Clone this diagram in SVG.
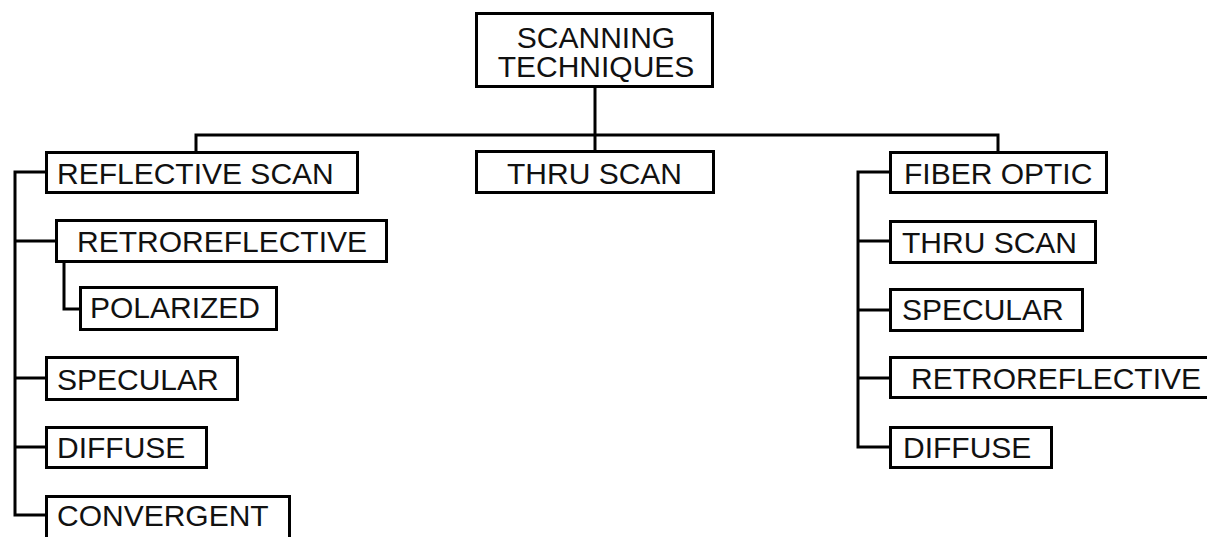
<svg xmlns="http://www.w3.org/2000/svg" width="1207" height="537" viewBox="0 0 1207 537">
  <style>
    .box { fill: #fff; stroke: #000; stroke-width: 3; }
    .wire { fill: none; stroke: #000; stroke-width: 3; stroke-linejoin: miter; stroke-linecap: butt; }
    .lbl { font-family: "Liberation Sans", Arial, sans-serif; font-size: 30px; fill: #111; }
    .mid { text-anchor: middle; }
  </style>
  <rect width="1207" height="537" fill="#fff"/>

  <!-- connectors -->
  <g id="connectors" class="wire">
    <path d="M595 87 V135"/>
    <path d="M196 152 V135 H998 V152"/>
    <path d="M595 135 V151"/>
    <!-- left branch -->
    <path d="M46 172 H15 V515 H46"/>
    <path d="M15 241 H56"/>
    <path d="M15 378 H46"/>
    <path d="M15 447 H46"/>
    <path d="M64 262 V309 H80"/>
    <!-- right branch -->
    <path d="M890 172 H858 V447 H890"/>
    <path d="M858 241 H890"/>
    <path d="M858 310 H890"/>
    <path d="M858 378 H890"/>
  </g>

  <g id="root">
    <rect class="box" x="476.5" y="13.5" width="236" height="73"/>
    <text class="lbl mid" x="596" y="48">SCANNING</text>
    <text class="lbl mid" x="596" y="77">TECHNIQUES</text>
  </g>

  <g id="reflective-scan">
    <rect class="box" x="46.5" y="152.5" width="311" height="40"/>
    <text class="lbl" x="57" y="184">REFLECTIVE SCAN</text>
  </g>
  <g id="retroreflective-left">
    <rect class="box" x="56.5" y="220.5" width="330" height="41"/>
    <text class="lbl" x="77" y="252">RETROREFLECTIVE</text>
  </g>
  <g id="polarized">
    <rect class="box" x="80.5" y="287.5" width="196" height="42"/>
    <text class="lbl" x="90" y="318">POLARIZED</text>
  </g>
  <g id="specular-left">
    <rect class="box" x="46.5" y="357.5" width="191" height="42"/>
    <text class="lbl" x="57" y="390">SPECULAR</text>
  </g>
  <g id="diffuse-left">
    <rect class="box" x="46.5" y="427.5" width="160" height="40"/>
    <text class="lbl" x="57" y="458">DIFFUSE</text>
  </g>
  <g id="convergent">
    <rect class="box" x="46.5" y="496.5" width="243" height="60"/>
    <text class="lbl" x="57" y="526">CONVERGENT</text>
  </g>

  <g id="thru-scan">
    <rect class="box" x="476.5" y="151.5" width="237" height="41"/>
    <text class="lbl" x="507" y="184">THRU SCAN</text>
  </g>

  <g id="fiber-optic">
    <rect class="box" x="890.5" y="152.5" width="216" height="40"/>
    <text class="lbl" x="904" y="184">FIBER OPTIC</text>
  </g>
  <g id="fiber-thru-scan">
    <rect class="box" x="890.5" y="221.5" width="205" height="41"/>
    <text class="lbl" x="902" y="253">THRU SCAN</text>
  </g>
  <g id="fiber-specular">
    <rect class="box" x="890.5" y="289.5" width="192" height="41"/>
    <text class="lbl" x="902" y="320">SPECULAR</text>
  </g>
  <g id="fiber-retroreflective">
    <rect class="box" x="890.5" y="357.5" width="330" height="40"/>
    <text class="lbl" x="911" y="389">RETROREFLECTIVE</text>
  </g>
  <g id="fiber-diffuse">
    <rect class="box" x="890.5" y="427.5" width="161" height="40"/>
    <text class="lbl" x="903" y="458">DIFFUSE</text>
  </g>
</svg>
